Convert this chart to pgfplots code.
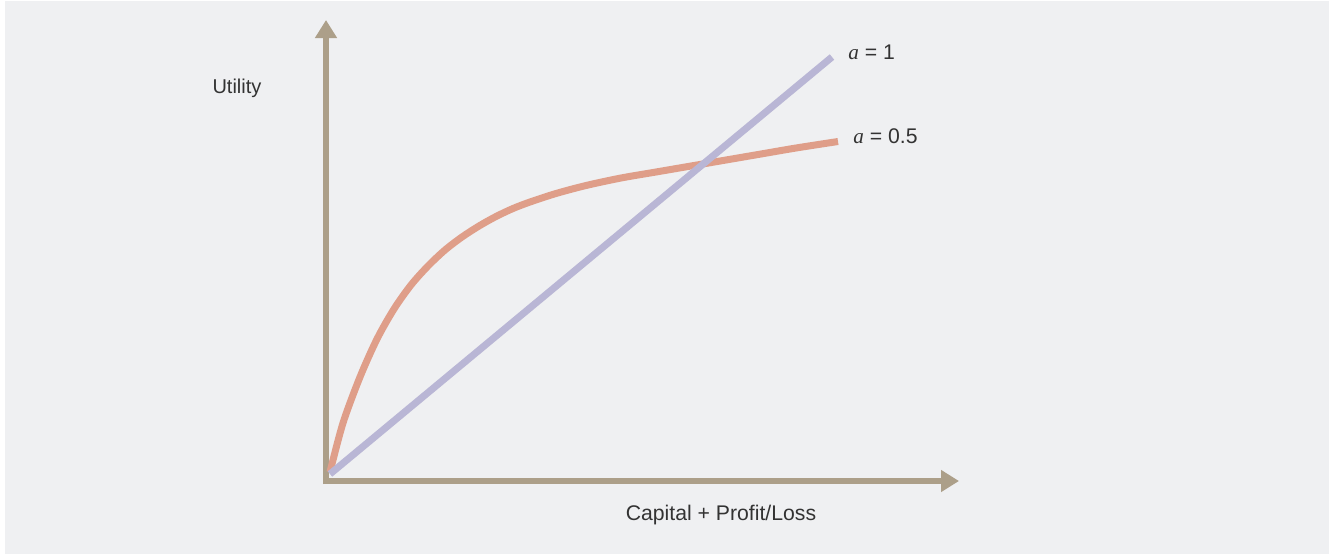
\documentclass[border=0pt]{standalone}
\usepackage{fontspec}
\setmainfont{Liberation Sans}
\newfontfamily\tms{Liberation Serif}
\usepackage{pgfplots}
\pgfplotsset{compat=1.18}
\usetikzlibrary{arrows.meta}
\definecolor{bg}{HTML}{EFF0F2}
\definecolor{axc}{HTML}{AC9F89}
\definecolor{lav}{HTML}{B9B6D5}
\definecolor{sal}{HTML}{DF9E89}
\definecolor{txt}{HTML}{333333}
\begin{document}
\begin{tikzpicture}
\fill[white] (0pt,0pt) rectangle (664.5pt,277pt);
\fill[bg] (2.5pt,0pt) rectangle (664.5pt,276.5pt);
\begin{axis}[
  at={(163pt,36.5pt)}, anchor=south west,
  x=0.5pt, y=0.5pt,
  xmin=0, xmax=633, ymin=0, ymax=461,
  hide axis, clip=false,
]
\draw[axc, line width=3pt, -{Triangle[length=9pt,width=10.5pt]}] (axis cs:-3,0) -- (axis cs:633,0);
\draw[axc, line width=3pt, -{Triangle[length=9pt,width=10.5pt]}] (axis cs:0,-3) -- (axis cs:0,461);
\addplot[sal, line width=3.5pt, smooth, tension=0.5] coordinates {
(4,9) (17,58) (34,104) (51,142) (68,172) (85,196) (102,215) (119,231)
(136,244) (153,255) (170,264.5) (187,272.5) (204,279) (230,287.5)
(260,295.5) (295,303) (330,309) (365,315) (400,321) (435,327) (470,333) (512,339.5)
};
\addplot[lav, line width=3.5pt] coordinates {(4,7) (506,424)};
\node[txt, anchor=base, inner sep=0pt, font=\fontsize{10}{12}\selectfont] at (axis cs:-89,388) {Utility};
\node[txt, anchor=base, inner sep=0pt, font=\fontsize{10.6}{12}\selectfont] at (axis cs:395,-39) {Capital + Profit/Loss};
\node[txt, anchor=base west, inner sep=0pt, font=\fontsize{10.6}{12}\selectfont] at (axis cs:522,422) {{\tms\itshape a} = 1};
\node[txt, anchor=base west, inner sep=0pt, font=\fontsize{10.6}{12}\selectfont] at (axis cs:527,338) {{\tms\itshape a} = 0.5};
\end{axis}
\end{tikzpicture}
\end{document}
